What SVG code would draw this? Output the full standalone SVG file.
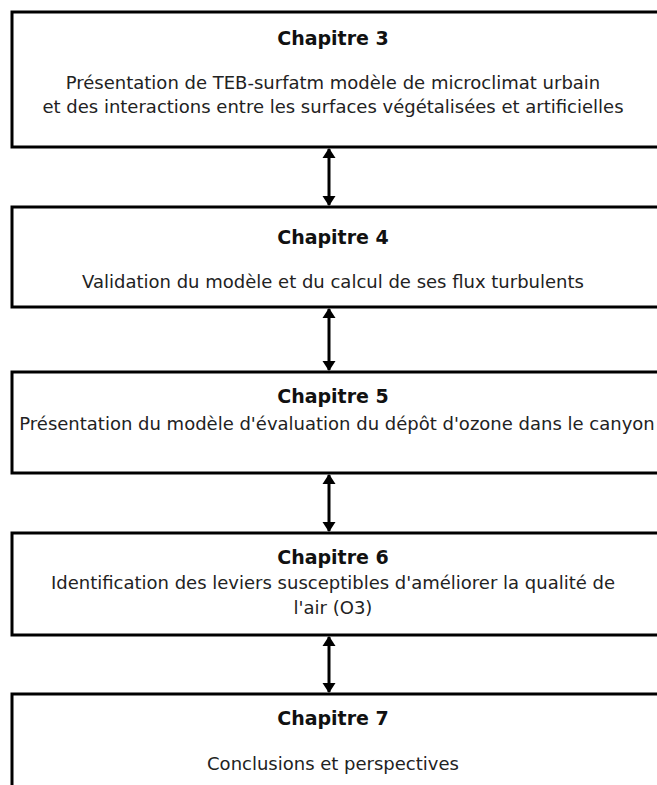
<svg xmlns="http://www.w3.org/2000/svg" width="657" height="785" viewBox="0 0 657 785">
<style>
.box{fill:#fff;stroke:#000;stroke-width:3}
.t{font-family:"DejaVu Sans",sans-serif;font-weight:bold;font-size:19px;text-anchor:middle;fill:#111}
.d{font-family:"DejaVu Sans",sans-serif;font-size:18px;text-anchor:middle;fill:#222}
.c{stroke:#000;stroke-width:3;fill:none}
</style>
<defs>
<marker id="ah" viewBox="0 0 10 13" refX="9" refY="6.5" markerWidth="3.6" markerHeight="4.4" orient="auto-start-reverse" markerUnits="strokeWidth">
<path d="M0,0 L10,6.5 L0,13 z" fill="#000"/>
</marker>
</defs>
<rect width="657" height="785" fill="#fff"/>
<g id="ch3">
<rect class="box" x="12" y="12" width="680" height="135"/>
<text class="t" x="333" y="45">Chapitre 3</text>
<text class="d" x="333" y="89">Présentation de TEB-surfatm modèle de microclimat urbain</text>
<text class="d" x="333" y="113">et des interactions entre les surfaces végétalisées et artificielles</text>
</g>
<g id="ch4">
<rect class="box" x="12" y="207" width="680" height="100"/>
<text class="t" x="333" y="244">Chapitre 4</text>
<text class="d" x="333" y="288">Validation du modèle et du calcul de ses flux turbulents</text>
</g>
<g id="ch5">
<rect class="box" x="12" y="372" width="680" height="101"/>
<text class="t" x="333" y="403">Chapitre 5</text>
<text class="d" x="337" y="430">Présentation du modèle d'évaluation du dépôt d'ozone dans le canyon</text>
</g>
<g id="ch6">
<rect class="box" x="12" y="533" width="680" height="102"/>
<text class="t" x="333" y="564">Chapitre 6</text>
<text class="d" x="333" y="589">Identification des leviers susceptibles d'améliorer la qualité de</text>
<text class="d" x="333" y="614">l'air (O3)</text>
</g>
<g id="ch7">
<rect class="box" x="12" y="694" width="680" height="120"/>
<text class="t" x="333" y="725">Chapitre 7</text>
<text class="d" x="333" y="770">Conclusions et perspectives</text>
</g>
<g id="connectors">
<line class="c" x1="329" y1="149" x2="329" y2="205" marker-start="url(#ah)" marker-end="url(#ah)"/>
<line class="c" x1="329" y1="309" x2="329" y2="370" marker-start="url(#ah)" marker-end="url(#ah)"/>
<line class="c" x1="329" y1="475" x2="329" y2="531" marker-start="url(#ah)" marker-end="url(#ah)"/>
<line class="c" x1="329" y1="637" x2="329" y2="692" marker-start="url(#ah)" marker-end="url(#ah)"/>
</g>
</svg>
